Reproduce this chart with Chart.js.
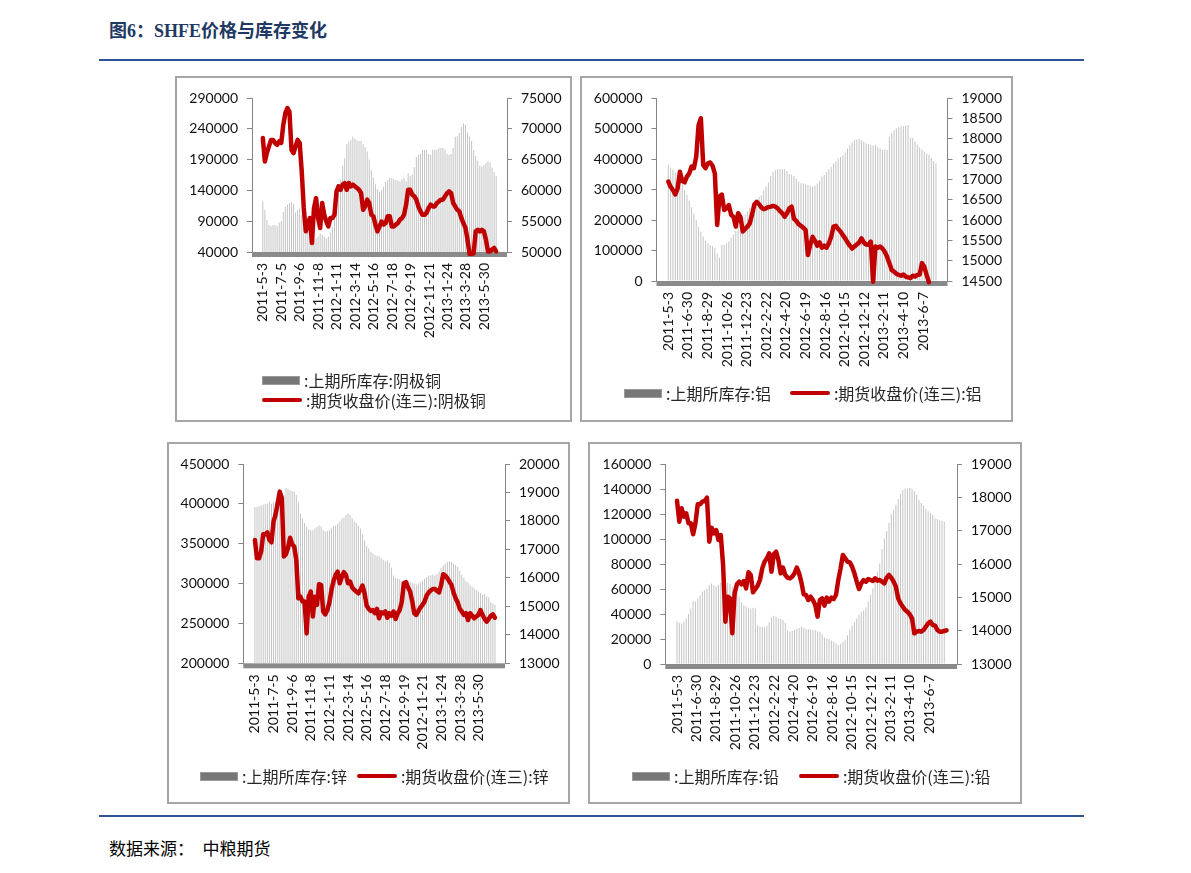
<!DOCTYPE html>
<html lang="zh">
<head>
<meta charset="UTF-8" />
<title>SHFE价格与库存变化</title>
<style>
  body { margin: 0; background: #fff; width: 1191px; height: 873px; position: relative; overflow: hidden; }
  .title { position: absolute; left: 109px; top: 19px; font: bold 18px "Liberation Serif", "Noto Sans CJK SC"; color: #1f3864; line-height: 24px; }
  .rule { position: absolute; left: 99px; width: 985px; height: 2px; background: #2e5597; }
  .source { position: absolute; left: 109px; top: 836px; font: 17px "Noto Sans CJK SC"; color: #000; line-height: 24px; }
  .panel { position: absolute; border: 2px solid #a6a6a6; box-sizing: border-box; }
  canvas { position: absolute; }
  .legend { position: absolute; display: flex; font: 16px "Noto Sans CJK SC"; color: #262626; }
  .legend .item { display: flex; align-items: center; height: 20px; white-space: nowrap; }
  .legend .bar { width: 36px; height: 7px; background: #777; border: 1px solid #9a9a9a; margin-right: 4px; }
  .legend .line { width: 40px; height: 4px; border-radius: 2px; background: #c00000; margin-right: 4px; }
</style>
<script src="https://cdn.jsdelivr.net/npm/chart.js"></script>
</head>
<body>
<div class="title">图6：SHFE价格与库存变化</div>
<div class="rule" style="top:59px"></div>
<div class="rule" style="top:815px"></div>
<div class="source">数据来源：　中粮期货</div>

<script>
// tick labels on the date axis
const datesA = ["2011-5-3", "2011-7-5", "2011-9-6", "2011-11-8", "2012-1-11", "2012-3-14", "2012-5-16",
  "2012-7-18", "2012-9-19", "2012-11-21", "2013-1-24", "2013-3-28", "2013-5-30"];
const datesB = ["2011-5-3", "2011-6-30", "2011-8-29", "2011-10-26", "2011-12-23", "2012-2-22", "2012-4-20",
  "2012-6-19", "2012-8-16", "2012-10-15", "2012-12-12", "2013-2-11", "2013-4-10", "2013-6-7"];

// weekly readings, copper
const cuStock = [122000,108000,92000,84000,82000,84000,84000,82000,88000,90000,
  105000,113000,117000,119000,121000,118000,104000,108000,111000,100000,
  95000,82000,72000,66000,61000,60000,62000,65000,70000,68000,
  65000,62000,65000,72000,80000,95000,112000,135000,158000,180000,
  192000,215000,219000,222000,227000,224000,221000,220000,220000,215000,
  210000,203000,190000,173000,161000,150000,142000,138000,141000,146000,
  154000,157000,160000,160000,158000,157000,156000,155000,158000,160000,
  155000,168000,163000,166000,178000,194000,198000,199000,206000,205000,
  206000,199000,198000,206000,206000,206000,209000,209000,209000,206000,
  199000,198000,199000,209000,227000,228000,233000,243000,249000,246000,
  234000,228000,220000,205000,196000,188000,180000,179000,181000,184000,
  187000,185000,177000,170000,163000];
const cuPrice = [68500,64700,66100,67150,68200,68200,67700,67400,67950,67700,
  70650,72550,73350,72800,66600,66050,67150,68200,67700,63100,
  57150,53350,54700,55500,51450,57150,58750,55500,53900,57950,
  56050,54950,54150,55500,55500,56050,59850,60650,60100,60950,
  61200,60100,61200,60650,60950,60650,60400,60100,59550,56850,
  57400,58500,57950,56050,55800,54450,53350,54150,54950,54450,
  54700,55800,55800,54150,54150,54450,54700,55250,55500,56050,
  57700,60100,60100,59300,59050,58500,57400,56600,56050,56050,
  56350,57150,57700,57400,57400,57950,58200,58500,58500,59050,
  59550,59850,59550,57950,57400,56850,56600,55500,54700,53900,
  52000,49700,49700,49800,53350,53600,53350,53600,53350,52000,
  50100,50100,50400,50650,50100];

// aluminium
const alStock = [381000,372000,366000,357000,346000,330000,318000,298000,283000,264000,
  242000,222000,200000,178000,162000,146000,132000,125000,118000,114000,
  109000,90000,76000,118000,118000,122000,130000,142000,152000,165000,
  178000,195000,211000,218000,228000,240000,245000,255000,266000,277000,
  282000,298000,310000,324000,345000,357000,364000,367000,368000,368000,
  367000,361000,351000,350000,345000,336000,326000,321000,321000,318000,
  315000,313000,310000,313000,320000,328000,343000,348000,358000,367000,
  375000,386000,393000,402000,407000,413000,422000,435000,446000,455000,
  462000,465000,466000,463000,458000,452000,449000,447000,445000,447000,
  441000,436000,430000,432000,430000,474000,485000,495000,501000,505000,
  507000,507000,510000,512000,471000,469000,459000,448000,439000,431000,
  425000,419000,414000,404000,394000,387000];
const alPrice = [16950,16820,16740,16630,16780,17190,16960,16930,17070,17150,
  17320,17280,17560,18340,18510,17360,17280,17400,17420,17340,
  17150,15880,16580,16630,16250,16290,16370,16130,16080,15840,
  16170,16080,15720,15780,15840,15920,16140,16390,16450,16390,
  16310,16270,16290,16320,16330,16350,16330,16290,16220,16170,
  16080,16170,16290,16330,16030,15980,15900,15860,15810,15760,
  15140,15390,15590,15490,15370,15450,15320,15370,15320,15430,
  15590,15840,15860,15780,15720,15630,15550,15450,15370,15300,
  15350,15400,15450,15550,15450,15400,15390,15470,14480,15350,
  15320,15350,15300,15220,15100,14940,14770,14730,14680,14650,
  14630,14660,14610,14590,14570,14630,14610,14650,14660,14940,
  14850,14650,14470];

// zinc
const znStock = [396000,396000,397000,398000,399000,400000,400000,402000,400000,402000,
  403000,407000,413000,413000,411000,420000,419000,417000,416000,415000,
  411000,402000,388000,382000,376000,371000,368000,367000,367000,369000,
  371000,373000,372000,367000,365000,366000,367000,369000,372000,373000,
  375000,378000,381000,383000,386000,388000,386000,382000,378000,376000,
  373000,369000,362000,354000,347000,344000,340000,338000,336000,335000,
  334000,332000,330000,328000,329000,326000,320000,310000,307000,306000,
  305000,304000,303000,302000,304000,302000,301000,300000,299000,300000,
  302000,304000,306000,308000,310000,310000,311000,310000,312000,315000,
  320000,323000,325000,327000,328000,327000,325000,323000,321000,316000,
  311000,307000,303000,301000,298000,296000,294000,292000,290000,288000,
  286000,287000,284000,283000,277000,275000,273000];
const znPrice = [17330,16690,16690,16920,17530,17530,17600,17330,17250,17980,
  18230,18620,19030,18800,16750,16830,17060,17410,17180,17100,
  16630,15280,15340,15170,15170,14050,15340,15520,14640,15340,
  15050,15780,15750,14820,14720,14870,15140,15580,15890,16100,
  16220,15810,16040,16200,16100,15810,15870,15660,15580,15520,
  15460,15580,15730,15460,15030,14910,14840,14870,14760,14910,
  14580,14790,14760,14820,14600,14760,14670,14820,14560,14760,
  14870,15170,15810,15850,15660,15520,15190,14760,14700,14840,
  14960,15050,15170,15380,15490,15560,15610,15610,15540,15490,
  15750,16130,16080,15990,15870,15750,15490,15280,15140,14910,
  14820,14700,14760,14520,14760,14670,14580,14640,14700,14870,
  14700,14560,14460,14560,14670,14720,14600];

// lead
const pbStock = [34000,33000,32500,34000,36500,40000,44500,50500,50000,52500,
  55000,58000,59000,60500,63000,64500,63000,62000,63500,65000,
  65500,65000,65500,64000,62000,60500,58000,54000,49500,47000,
  46000,45000,44500,45000,44500,31000,30000,29800,29500,30500,
  33500,37500,38700,38000,36500,36200,35200,33000,27000,26000,
  26500,27500,28500,28800,29800,29000,28000,27800,27800,27200,
  27000,26000,25800,24000,21000,20500,19800,18800,18000,16500,
  15200,16200,17800,19000,23000,27500,31000,33500,36500,39500,
  41500,43000,45500,50000,55200,60500,66500,73500,80500,92000,
  100500,106500,113000,120000,123000,127500,132000,136000,139200,140500,
  140500,141000,140500,138500,135500,131500,128800,126500,124000,122200,
  120800,119300,116500,116000,115100,114400,113800];
const pbPrice = [17900,17270,17670,17420,17520,17220,17220,16890,17220,17790,
  17790,17870,17890,17990,16670,17090,16920,17020,16720,16870,
  15970,14270,15020,14970,13920,15120,15390,15470,15390,15490,
  15270,15750,15670,15150,15250,15350,15520,15870,16070,16170,
  16320,15770,16290,16370,16120,15720,15890,15670,15590,15570,
  15620,15720,15890,15720,15450,15090,15070,14920,15020,14920,
  14770,14420,14920,14970,14750,14990,14870,14990,14950,15070,
  15520,15870,16270,16170,16070,16050,15920,15720,15470,15250,
  15420,15520,15470,15550,15520,15490,15570,15500,15520,15470,
  15420,15590,15670,15590,15470,15320,14970,14820,14720,14620,
  14570,14490,14370,13920,13970,13990,13970,14020,14120,14220,
  14270,14170,14150,14020,13970,13970,13990,14010];

const panels = [
  { box: [175, 76, 572, 422], plot: [252, 98, 507, 252], xMin: -0.5, xMax: 114.5, step: 9.02,
    dates: datesA, stock: cuStock, price: cuPrice, left: [40000, 290000, 50000], right: [50000, 75000, 5000],
    names: [":上期所库存:阴极铜", ":期货收盘价(连三):阴极铜"], legend: { x: 262, y: 370, column: true, gap: 0 } },
  { box: [580, 76, 1013, 422], plot: [656.5, 98.3, 947.5, 281], xMin: -0.6, xMax: 115.5, step: 8.42,
    dates: datesB, stock: alStock, price: alPrice, left: [0, 600000, 100000], right: [14500, 19000, 500],
    names: [":上期所库存:铝", ":期货收盘价(连三):铝"], legend: { x: 624, y: 383, gap: 19 } },
  { box: [167, 442, 570, 804], plot: [243.3, 464, 505, 663.3], xMin: -0.75, xMax: 116, step: 9.02,
    dates: datesA, stock: znStock, price: znPrice, left: [200000, 450000, 50000], right: [13000, 20000, 1000],
    names: [":上期所库存:锌", ":期货收盘价(连三):锌"], legend: { x: 200, y: 766, gap: 10 } },
  { box: [588, 442, 1022, 804], plot: [665.3, 464, 957, 664], xMin: -0.56, xMax: 117, step: 8.42,
    dates: datesB, stock: pbStock, price: pbPrice, left: [0, 160000, 20000], right: [13000, 19000, 1000],
    names: [":上期所库存:铅", ":期货收盘价(连三):铅"], legend: { x: 632, y: 766, gap: 20 } }
];

Chart.defaults.font.family = "Lato";
Chart.defaults.font.size = 14;
Chart.defaults.color = "#111";

// dense grey tick band under the category axis
const baseBand = {
  id: "baseBand",
  beforeDatasetsDraw(chart) {
    const { ctx, chartArea: a } = chart;
    ctx.save();
    ctx.fillStyle = "#8a8a8a";
    ctx.fillRect(a.left, a.bottom, a.right - a.left, 5);
    ctx.restore();
  }
};

function valueAxis(pos, range, fitWidth) {
  return {
    position: pos,
    min: range[0],
    max: range[1],
    afterBuildTicks: s => {
      const t = [];
      for (let v = range[0]; v <= range[1]; v += range[2]) t.push({ value: v });
      s.ticks = t;
    },
    afterFit: s => { s.width = fitWidth; },
    ticks: { padding: 9, callback: v => String(v) },
    grid: { drawOnChartArea: false, drawTicks: true, tickLength: 5, color: "#868686" },
    border: { color: "#868686" }
  };
}

panels.forEach(p => {
  const [bx, by, br, bb] = p.box;
  const [pl, pt, pr, pb] = p.plot;
  const frame = document.createElement("div");
  frame.className = "panel";
  Object.assign(frame.style, { left: bx + "px", top: by + "px", width: (br - bx) + "px", height: (bb - by) + "px" });
  document.body.appendChild(frame);

  const canvas = document.createElement("canvas");
  canvas.width = br - bx;
  canvas.height = bb - by;
  Object.assign(canvas.style, { left: bx + "px", top: by + "px" });
  document.body.appendChild(canvas);

  new Chart(canvas, {
    data: {
      datasets: [
        { type: "bar", label: p.names[0], yAxisID: "y", order: 1,
          data: p.stock.map((v, i) => ({ x: i, y: v })),
          backgroundColor: "#c4c4c4", barThickness: 1, inflateAmount: 0 },
        { type: "line", label: p.names[1], yAxisID: "y1", order: 0,
          data: p.price.map((v, i) => ({ x: i, y: v })),
          borderColor: "#c00000", borderWidth: 4.5, pointRadius: 0, tension: 0,
          borderJoinStyle: "round", borderCapStyle: "round",
          clip: { left: 0, top: 0, right: 0, bottom: 6 } }
      ]
    },
    options: {
      responsive: false,
      animation: false,
      layout: { padding: { top: pt - by, left: 0, right: 0, bottom: 0 } },
      plugins: { legend: { display: false }, tooltip: { enabled: false } },
      scales: {
        x: {
          type: "linear",
          min: p.xMin,
          max: p.xMax,
          afterBuildTicks: s => { s.ticks = p.dates.map((d, i) => ({ value: i * p.step })); },
          afterFit: s => { s.height = bb - pb; },
          ticks: { autoSkip: false, maxRotation: 90, minRotation: 90, padding: 6,
                   callback: (v, i) => p.dates[i] },
          grid: { display: true, drawOnChartArea: false, drawTicks: true, tickLength: 5, color: "rgba(0,0,0,0)" },
          border: { display: false }
        },
        y: valueAxis("left", p.left, pl - bx),
        y1: valueAxis("right", p.right, br - pr)
      }
    },
    plugins: [baseBand]
  });

  const lg = document.createElement("div");
  lg.className = "legend";
  Object.assign(lg.style, { left: p.legend.x + "px", top: p.legend.y + "px",
    flexDirection: p.legend.column ? "column" : "row", gap: p.legend.gap + "px" });
  p.names.forEach((n, i) => {
    const it = document.createElement("div");
    it.className = "item";
    const mk = document.createElement("span");
    mk.className = i === 0 ? "bar" : "line";
    it.appendChild(mk);
    it.appendChild(document.createTextNode(n));
    lg.appendChild(it);
  });
  document.body.appendChild(lg);
});
</script>
</body>
</html>
